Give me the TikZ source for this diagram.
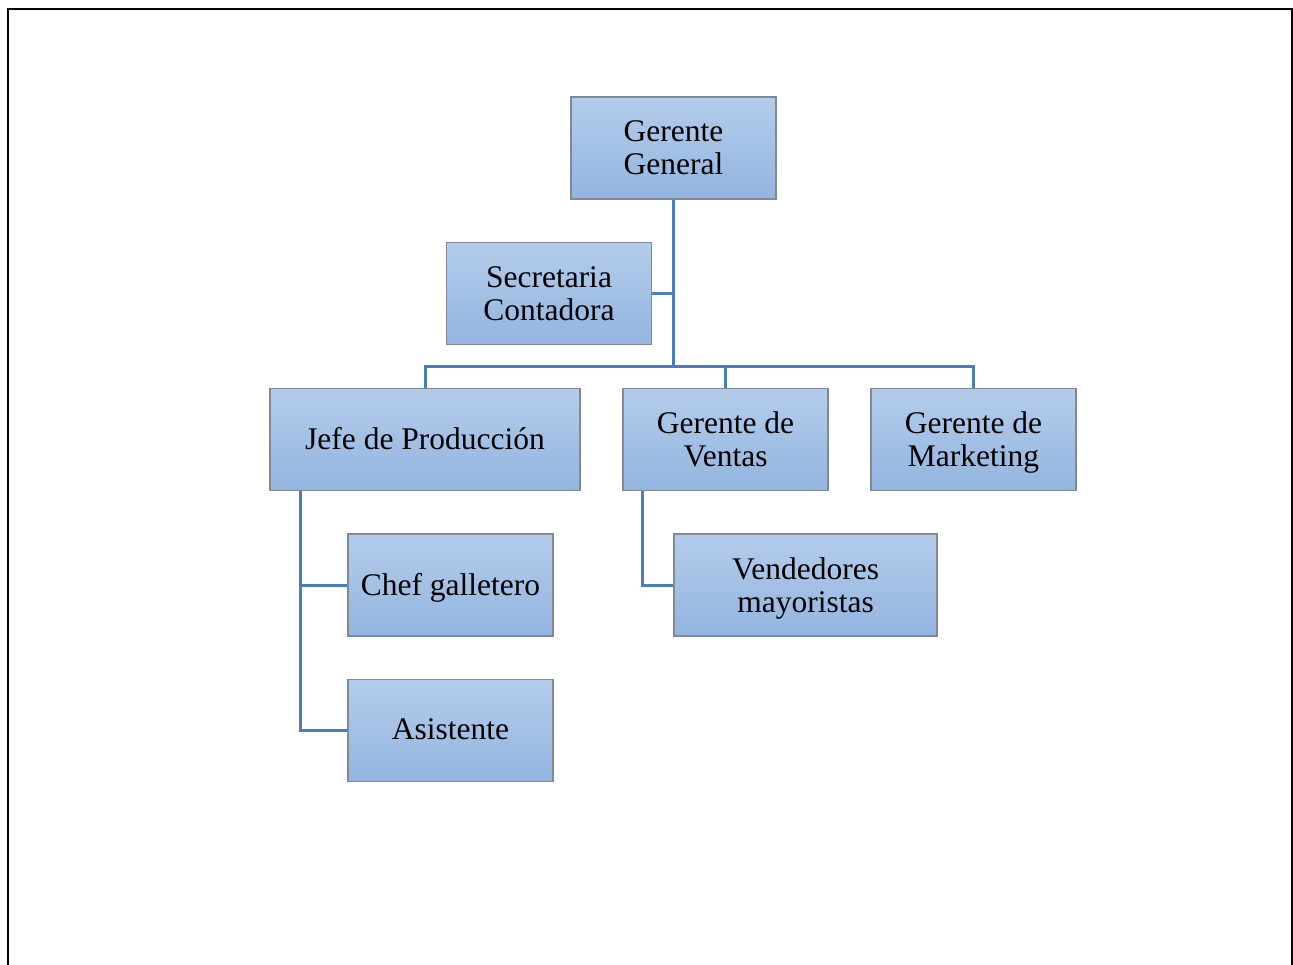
\documentclass[tikz,border=0pt]{standalone}
\usepackage{fontspec}
\setmainfont{Liberation Serif}
\usepackage{tikz}
\definecolor{boxtop}{HTML}{B4CCEB}
\definecolor{boxbot}{HTML}{93B5DF}
\definecolor{boxline}{HTML}{7F8A96}
\definecolor{linkblue}{HTML}{4A7EBB}
\tikzset{
  box/.style={draw=boxline, line width=1.2pt, top color=boxtop, bottom color=boxbot,
    minimum width=205pt, minimum height=102pt, inner sep=0pt, align=center,
    font=\fontsize{31.5}{33}\selectfont},
  sbox/.style={box, text depth=2pt},
  link/.style={draw=linkblue, line width=3pt},
}

\begin{document}
\begin{tikzpicture}[x=1pt, y=-1pt]
  \useasboundingbox (0,0) rectangle (1293,965);
  \draw[line width=2.5pt] (8,966) -- (8,9) -- (1292,9) -- (1292,966);

  \node[box] (gg) at (673.5,148) {Gerente\\General};
  \node[box] (sec) at (549,293.5) {Secretaria\\Contadora};
  \node[sbox, minimum width=310pt] (jefe) at (425,439.5) {Jefe de Producción};
  \node[box] (gv) at (725.5,439.5) {Gerente de\\Ventas};
  \node[box] (gm) at (973.5,439.5) {Gerente de\\\smash{Marketing}};
  \node[sbox] (chef) at (450.5,585) {Chef galletero};
  \node[box, minimum width=263pt] (vend) at (805.5,585) {Vendedores\\\smash{mayoristas}};
  \node[sbox] (asis) at (450.5,730.5) {Asistente};
  \coordinate (bus) at (673,367);

  \draw[link] (gg.south -| bus) -- (bus);
  \draw[link] (sec.east) -- (sec.east -| bus);
  \draw[link] (jefe.north) |- (bus) -| (gm.north);
  \draw[link] (gv.north) -- (gv.north |- bus);
  \draw[link] ([xshift=31pt]jefe.south west) |- (chef.west);
  \draw[link] ([xshift=31pt]jefe.south west) |- (asis.west);
  \draw[link] ([xshift=20pt]gv.south west) |- (vend.west);
\end{tikzpicture}
\end{document}
